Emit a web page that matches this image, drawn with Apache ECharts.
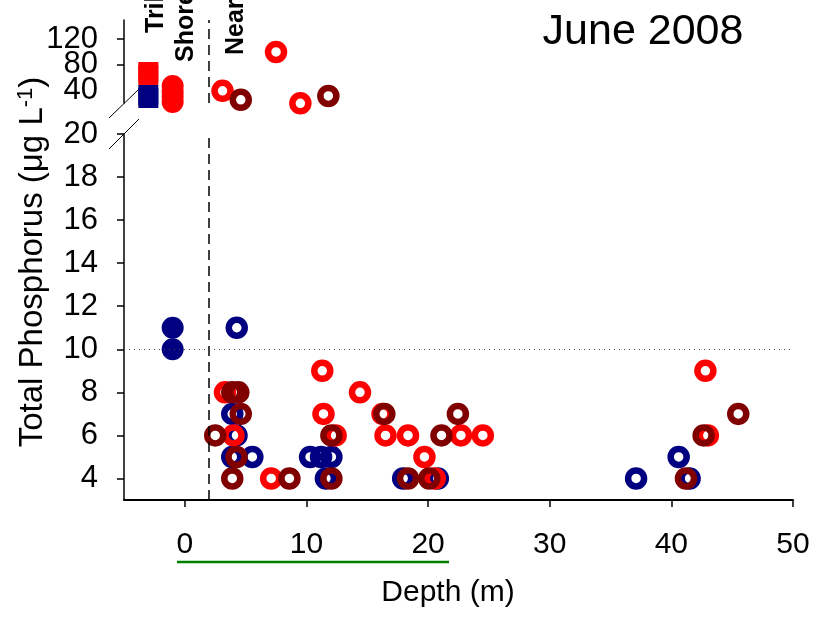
<!DOCTYPE html>
<html>
<head>
<meta charset="utf-8">
<script src="https://cdn.jsdelivr.net/npm/echarts@6/dist/echarts.min.js"></script>
<style>
    html, body, #main { width: 100%; height: 100%; margin: 0; background: #fff; }
</style>
</head>
<body>
<div id="main"></div>
<script>
var FONT = '"Liberation Sans", Arial, sans-serif';

// depth (m) vs total phosphorus (ug/L)
var xTicks = [0, 10, 20, 30, 40, 50];
var lowTicks = [4, 6, 8, 10, 12, 14, 16, 18, 20];
var highLabels = [40, 120];
var highMidLabels = [80];   // drawn by a second axis so it is not dropped as overlapping
var highTicks = [80, 120];

// tributary + shore (filled), plotted left of the nearshore line
var tribRed = [[-3, 68.6], [-3, 63.9]];
var tribNavy = [[-3, 32.5], [-3, 27.8]];
var shoreRedHigh = [[-1, 46.6], [-1, 38], [-1, 30], [-1, 21.6]];
var shoreNavy = [[-1, 10], [-1, 11]];

// nearshore, upper (broken) panel
var nearRedHigh = [[3.1, 39], [7.5, 100], [9.5, 19.5]];
var nearDarkHigh = [[4.6, 25], [11.8, 31]];

// nearshore, lower panel
var nearNavy = [[4.27, 11], [3.9, 7], [4.25, 6], [3.9, 5], [5.55, 5], [10.3, 5], [11.2, 5],
    [12.05, 5], [11.6, 4], [17.95, 4], [20.8, 4], [40.6, 5], [37.1, 4], [41.5, 4]];
var nearRed = [[3.3, 8], [11.3, 9], [11.4, 7], [12.4, 6], [14.4, 8], [16.25, 7], [16.5, 6],
    [18.35, 6], [22.7, 6], [24.5, 6], [19.7, 5], [4.0, 6], [7.1, 4], [20.55, 4], [42.8, 9], [43, 6]];
var nearDark = [[2.5, 6], [3.9, 8], [4.4, 8], [4.6, 7], [4.25, 5], [3.9, 4], [8.6, 4], [12.05, 6],
    [12.05, 4], [16.4, 7], [21.1, 6], [22.45, 7], [18.35, 4], [20.1, 4], [45.5, 7], [42.65, 6], [41.2, 4]];

var RED = '#ff0000', DARK = '#800000', NAVY = '#000080';

function ring(name, data, color, xi, yi) {
    return {
        name: name, type: 'scatter', xAxisIndex: xi, yAxisIndex: yi,
        data: data, symbol: 'circle', symbolSize: 16, clip: false,
        itemStyle: { color: 'rgba(0,0,0,0)', borderColor: color, borderWidth: 6.5, opacity: 1 },
        emphasis: { disabled: true }
    };
}
function solid(name, data, color, symbol, size, xi, yi) {
    return {
        name: name, type: 'scatter', xAxisIndex: xi, yAxisIndex: yi,
        data: data, symbol: symbol, symbolSize: size, clip: false,
        itemStyle: { color: color, opacity: 1 },
        emphasis: { disabled: true }
    };
}

var axisText = { color: '#000', fontFamily: FONT, interval: 0, showMinLabel: true, showMaxLabel: true, hideOverlap: false };
var blackLine = { show: true, onZero: false, lineStyle: { color: '#000', width: 1.5 } };

var chart = echarts.init(document.getElementById('main'));

var upperTrib = solid('Tributary red', tribRed, RED, 'rect', 20, 0, 0);
upperTrib.markLine = {
    silent: true, symbol: 'none', label: { show: false },
    data: [{ xAxis: 2, lineStyle: { color: '#000', width: 1.5, type: [10, 6] } }]
};
var lowerShore = solid('Shore navy', shoreNavy, NAVY, 'circle', 22, 1, 1);
lowerShore.markLine = {
    silent: true, symbol: 'none', label: { show: false },
    data: [
        { xAxis: 2, lineStyle: { color: '#000', width: 1.5, type: [10, 6] } },
        { yAxis: 10, lineStyle: { color: '#444', width: 1, type: [1, 4] } }
    ]
};

chart.setOption({
    backgroundColor: '#fff',
    animation: false,
    grid: [
        { left: 124, right: 24, top: 20, height: 83 },
        { left: 124, right: 24, top: 134, height: 366 }
    ],
    xAxis: [{
        gridIndex: 0, type: 'value', min: -5, max: 50, show: false
    }, {
        gridIndex: 1, type: 'value', min: -5, max: 50,
        splitLine: { show: false },
        axisLine: { show: true, onZero: false, lineStyle: { color: '#000', width: 2 } },
        axisTick: { show: true, length: 7, customValues: xTicks, lineStyle: { color: '#000', width: 1.5 } },
        axisLabel: Object.assign({ fontSize: 30, margin: 30, customValues: xTicks }, axisText)
    }],
    yAxis: [{
        gridIndex: 0, type: 'value', min: 20, max: 150,
        splitLine: { show: false },
        axisLine: blackLine,
        axisTick: { show: true, length: 7, customValues: highTicks, lineStyle: { color: '#000', width: 1.5 } },
        axisLabel: Object.assign({ fontSize: 31, margin: 26, customValues: highLabels }, axisText)
    }, {
        gridIndex: 1, type: 'value', min: 3, max: 20,
        splitLine: { show: false },
        axisLine: blackLine,
        axisTick: { show: true, length: 7, customValues: lowTicks, lineStyle: { color: '#000', width: 1.5 } },
        axisLabel: Object.assign({ fontSize: 31, margin: 26, customValues: lowTicks }, axisText)
    }, {
        gridIndex: 0, type: 'value', min: 20, max: 150, position: 'left',
        splitLine: { show: false },
        axisLine: { show: false, onZero: false },
        axisTick: { show: false },
        axisLabel: Object.assign({ fontSize: 31, margin: 26, customValues: highMidLabels }, axisText)
    }],
    graphic: [
        // axis break marks
        { type: 'line', z: 0, shape: { x1: 109, y1: 118, x2: 139, y2: 89 }, style: { stroke: '#000', lineWidth: 1 } },
        { type: 'line', z: 0, shape: { x1: 109, y1: 149, x2: 139, y2: 119 }, style: { stroke: '#000', lineWidth: 1 } },
        // green underline under 0-20
        { type: 'line', shape: { x1: 177, y1: 562, x2: 449, y2: 562 }, style: { stroke: '#008000', lineWidth: 2.5 } },
        {
            type: 'text', x: 643, y: 32,
            style: { text: 'June 2008', font: '43px ' + FONT, fill: '#000', textAlign: 'center', textVerticalAlign: 'middle' }
        },
        {
            type: 'text', x: 448, y: 593,
            style: { text: 'Depth (m)', font: '30px ' + FONT, fill: '#000', textAlign: 'center', textVerticalAlign: 'middle' }
        },
        {
            type: 'text', x: 33, y: 262, rotation: Math.PI / 2,
            style: {
                text: 'Total Phosphorus (μg L{sup|-1})', font: '33px ' + FONT, fill: '#000',
                textAlign: 'center', textVerticalAlign: 'middle',
                rich: { sup: { fontSize: 22, fontFamily: FONT, verticalAlign: 'top', padding: [0, 0, 14, 0] } }
            }
        },
        {
            type: 'text', x: 156, y: 33, rotation: Math.PI / 2,
            style: { text: 'Tributary', font: 'bold 25px ' + FONT, fill: '#000', textAlign: 'left', textVerticalAlign: 'middle' }
        },
        {
            type: 'text', x: 186, y: 62, rotation: Math.PI / 2,
            style: { text: 'Shore', font: 'bold 25px ' + FONT, fill: '#000', textAlign: 'left', textVerticalAlign: 'middle' }
        },
        {
            type: 'text', x: 236, y: 55, rotation: Math.PI / 2,
            style: { text: 'Nearshore', font: 'bold 25px ' + FONT, fill: '#000', textAlign: 'left', textVerticalAlign: 'middle' }
        }
    ],
    series: [
        upperTrib,
        solid('Tributary navy', tribNavy, NAVY, 'rect', 20, 0, 0),
        solid('Shore red', shoreRedHigh, RED, 'circle', 22, 0, 0),
        ring('Nearshore red (high)', nearRedHigh, RED, 0, 0),
        ring('Nearshore dark red (high)', nearDarkHigh, DARK, 0, 0),
        lowerShore,
        ring('Nearshore navy', nearNavy, NAVY, 1, 1),
        ring('Nearshore red', nearRed, RED, 1, 1),
        ring('Nearshore dark red', nearDark, DARK, 1, 1)
    ]
});
</script>
</body>
</html>
